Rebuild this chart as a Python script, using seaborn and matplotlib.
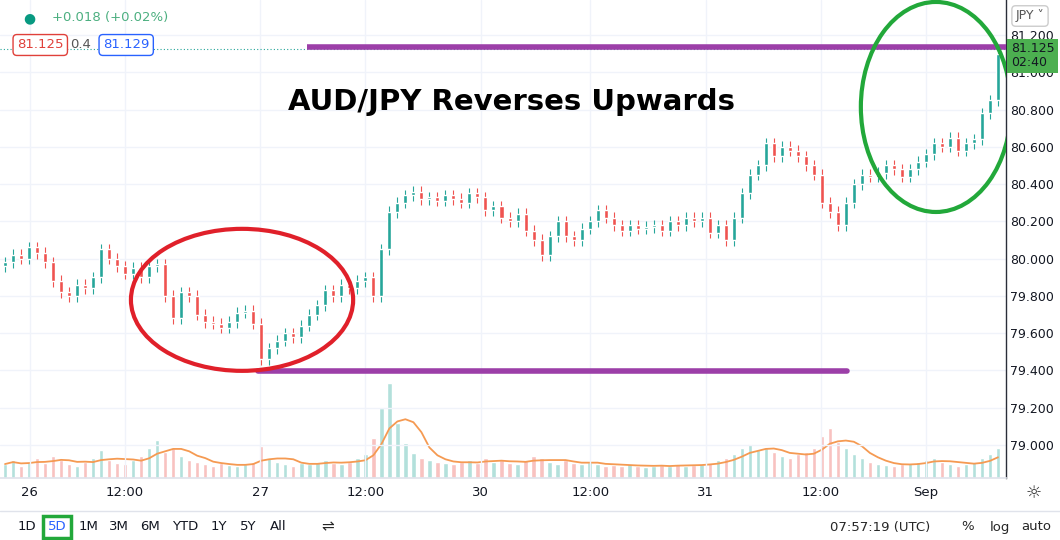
import matplotlib
matplotlib.use("Agg")
import matplotlib.pyplot as plt
import seaborn as sns
import numpy as np
import pandas as pd
from matplotlib.patches import Ellipse

sns.set_theme(style="white")
plt.rcParams['font.family'] = ['DejaVu Sans']

# closing prices, one per candle
closes = [79.98, 80.02, 80.00, 80.06, 80.03, 79.98, 79.88, 79.82, 79.80, 79.86,
          79.84, 79.90, 80.05, 80.00, 79.96, 79.92, 79.95, 79.90, 79.96, 79.97,
          79.80, 79.68, 79.82, 79.80, 79.70, 79.66, 79.65, 79.63, 79.66, 79.71,
          79.72, 79.65, 79.46, 79.52, 79.56, 79.60, 79.58, 79.64, 79.70, 79.75,
          79.83, 79.80, 79.86, 79.84, 79.88, 79.90, 79.80, 80.05, 80.25, 80.30,
          80.34, 80.36, 80.32, 80.33, 80.31, 80.34, 80.32, 80.30, 80.35, 80.33,
          80.26, 80.28, 80.22, 80.20, 80.24, 80.15, 80.10, 80.02, 80.12, 80.20,
          80.12, 80.10, 80.16, 80.20, 80.26, 80.22, 80.18, 80.15, 80.18, 80.16,
          80.17, 80.18, 80.15, 80.20, 80.18, 80.22, 80.20, 80.22, 80.14, 80.18,
          80.10, 80.22, 80.35, 80.45, 80.50, 80.62, 80.55, 80.60, 80.58, 80.55,
          80.50, 80.45, 80.30, 80.25, 80.18, 80.30, 80.40, 80.45, 80.44, 80.46,
          80.50, 80.48, 80.44, 80.48, 80.52, 80.56, 80.62, 80.60, 80.65, 80.58,
          80.62, 80.64, 80.78, 80.85, 81.10]
first_open = 79.96
volumes = [14, 18, 12, 16, 20, 15, 22, 18, 14, 12,
           16, 20, 28, 18, 15, 14, 18, 22, 30, 38,
           26, 30, 22, 18, 16, 14, 12, 15, 13, 12,
           14, 16, 32, 20, 16, 14, 12, 15, 14, 16,
           18, 15, 14, 16, 20, 24, 40, 70, 95, 55,
           35, 25, 20, 18, 16, 15, 14, 16, 18, 15,
           20, 16, 18, 15, 14, 18, 22, 20, 16, 14,
           18, 15, 14, 16, 14, 12, 13, 12, 14, 12,
           11, 12, 13, 12, 14, 12, 13, 14, 15, 18,
           20, 24, 30, 34, 28, 30, 26, 22, 20, 24,
           26, 30, 42, 50, 36, 30, 24, 20, 16, 14,
           13, 12, 14, 15, 16, 18, 20, 16, 14, 12,
           14, 16, 20, 24, 30]
price_ticks = [79.0, 79.2, 79.4, 79.6, 79.8, 80.0, 80.2, 80.4, 80.6, 80.8, 81.0, 81.2]
time_ticks = [3.1, 15, 31.9, 45, 59.4, 73.1, 87.5, 101.9, 115]
time_labels = ["26", "12:00", "27", "12:00", "30", "12:00", "31", "12:00", "Sep"]
toolbar = ["1D", "5D", "1M", "3M", "6M", "YTD", "1Y", "5Y", "All"]
toolbar_x = [27, 57, 88, 119, 150, 185, 219, 248, 278]
last_price = 81.125

up_c, down_c = "#26a69a", "#ef5350"
df = pd.DataFrame({"close": closes, "volume": volumes})
df["open"] = [first_open] + closes[:-1]
df["high"] = df[["open", "close"]].max(axis=1) + 0.03
df["low"] = df[["open", "close"]].min(axis=1) - 0.03
df["up"] = df["close"] >= df["open"]
df["vma"] = df["volume"].rolling(5, min_periods=1).mean()
idx = np.arange(len(df))

fig = plt.figure(figsize=(10.6, 5.4), dpi=100)
ax = fig.add_axes([0, 62 / 540, 1006 / 1060, 478 / 540])
vax = ax.twinx()
vax.set_ylim(0, 480)
vax.axis("off")
vcol = np.where(df["up"], "#b3e0db", "#f8c2c0")
vax.bar(idx, df["volume"], width=0.55, color=vcol, zorder=1)
sns.lineplot(x=idx, y=df["vma"], ax=vax, color="#f59a52", lw=1.3)

colors = np.where(df["up"], up_c, down_c)
ax.vlines(idx, df["low"], df["high"], colors=colors, lw=0.8, zorder=3)
ax.bar(idx, (df["close"] - df["open"]).abs().clip(lower=0.008),
       bottom=df[["open", "close"]].min(axis=1), width=0.5, color=colors, zorder=4)
ax.set_zorder(vax.get_zorder() + 1)
ax.patch.set_visible(False)

ax.set_xlim(-0.625, 125)
ax.set_ylim(78.823, 81.388)
ax.yaxis.tick_right()
ax.set_yticks(price_ticks)
ax.set_yticklabels([f"{p:.3f}" for p in price_ticks], fontsize=9, color="#131722")
ax.set_xticks(time_ticks)
ax.set_xticklabels(time_labels, fontsize=9.5, color="#131722")
ax.tick_params(axis="y", length=0, pad=3)
ax.tick_params(axis="x", length=0, pad=6)
ax.grid(True, color="#f0f3fa", lw=1)
for s in ["top", "left"]:
    ax.spines[s].set_visible(False)
ax.spines["bottom"].set_color("#e0e3eb")
ax.spines["right"].set_color("#2a2e39")
ax.spines["right"].set_linewidth(1)

# support / resistance lines
ax.plot([(307 - 5) / 8, 125], [81.136, 81.136], color="#9c3fa8", lw=4, zorder=5, solid_capstyle="butt")
ax.plot([(258 - 5) / 8, (846 - 5) / 8], [79.398, 79.398], color="#9c3fa8", lw=4, zorder=5)
ax.axhline(last_price, color="#26a69a", lw=0.8, ls=(0, (1, 2)), zorder=2)

ax.add_patch(Ellipse((29.6, 79.779), 27.75, 0.762, fill=False, ec="#e0202a", lw=3, zorder=6))
ax.add_patch(Ellipse((116.25, 80.814), 18.75, 1.127, fill=False, ec="#22a83a", lw=3, zorder=6))

fig.text(512 / 1060, 1 - 102 / 540, "AUD/JPY Reverses Upwards", fontsize=21, fontweight="bold",
         ha="center", va="center", color="black")

# header
fig.text(29 / 1060, 1 - 18 / 540, "●", color="#089981", fontsize=10, ha="center", va="center")
fig.text(52 / 1060, 1 - 18 / 540, "+0.018 (+0.02%)", color="#4caf80", fontsize=9.5, va="center")
fig.text(17 / 1060, 1 - 45 / 540, "81.125", color="#e0403a", fontsize=9.5, va="center",
         bbox=dict(boxstyle="round,pad=0.3", fc="white", ec="#e0403a"))
fig.text(70 / 1060, 1 - 45 / 540, "0.4", color="#555", fontsize=9.5, va="center")
fig.text(103 / 1060, 1 - 45 / 540, "81.129", color="#2962ff", fontsize=9.5, va="center",
         bbox=dict(boxstyle="round,pad=0.3", fc="white", ec="#2962ff"))

# right labels
fig.text(1030 / 1060, 1 - 16 / 540, "JPY ˅", color="#555", fontsize=9, ha="center", va="center",
         bbox=dict(boxstyle="round,pad=0.3", fc="white", ec="#ccc"))
fig.text(1011 / 1060, 1 - 56 / 540, "81.125\n02:40", color="#131722", fontsize=9, va="center",
         linespacing=1.1, bbox=dict(boxstyle="square,pad=0.3", fc="#4caf50", ec="none"))
fig.text(1034 / 1060, 1 - 493 / 540, "☼", fontsize=13, ha="center", va="center", color="#333")

# bottom toolbar
fig.add_artist(plt.Line2D([0, 1], [1 - 511 / 540] * 2, color="#e0e3eb", lw=1))
for lab, x in zip(toolbar, toolbar_x):
    fig.text(x / 1060, 1 - 527 / 540, lab, fontsize=9.5, ha="center", va="center",
             color="#2962ff" if lab == "5D" else "#131722",
             bbox=dict(boxstyle="square,pad=0.35", fc="none", ec="#22a83a", lw=2.5) if lab == "5D" else None)
fig.text(328 / 1060, 1 - 527 / 540, "⇌", fontsize=11, ha="center", va="center")
fig.text(880 / 1060, 1 - 527 / 540, "07:57:19 (UTC)", fontsize=9.5, ha="center", va="center")
fig.text(968 / 1060, 1 - 527 / 540, "%", fontsize=9.5, ha="center", va="center")
fig.text(1000 / 1060, 1 - 527 / 540, "log", fontsize=9.5, ha="center", va="center")
fig.text(1036 / 1060, 1 - 527 / 540, "auto", fontsize=9.5, ha="center", va="center")

fig.savefig("out.png", dpi=100)
